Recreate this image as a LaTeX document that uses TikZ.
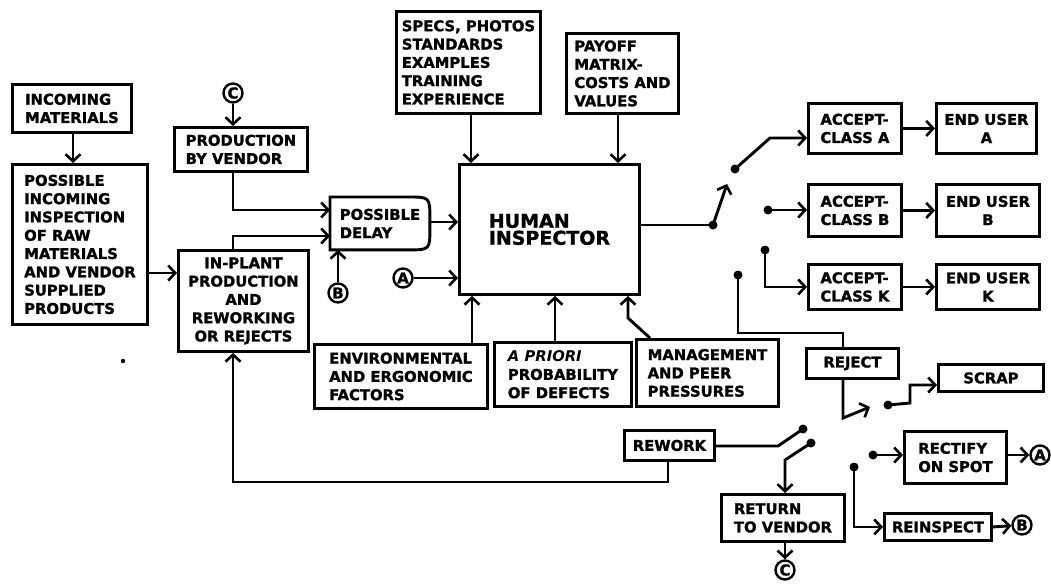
\documentclass[tikz,border=0pt]{standalone}
\usepackage{fontspec}
\setmainfont{DejaVu Sans}[BoldFeatures={FakeBold=1.4}]
\usetikzlibrary{arrows.meta,calc}
\begin{document}
\begin{tikzpicture}[x=1pt,y=-1pt,
  ln/.style={line width=2.9pt},
  bx/.style={draw, line width=2.9pt, rectangle, anchor=north west, inner sep=3pt, align=left,
    font=\bfseries\fontsize{14.8}{18.3}\selectfont},
  cx/.style={bx, align=center},
  arr/.style={ln, -{Straight Barb[length=7pt,width=15pt,line width=2.6pt]}},
  dot/.style={circle, fill, inner sep=0pt, minimum size=9pt},
  lt/.style={circle, draw, line width=2.4pt, inner sep=0pt, minimum size=19pt,
    font=\bfseries\fontsize{15}{15}\selectfont}]
\useasboundingbox (0,0) rectangle (1051,586);

% left column
\node[bx, minimum width=119pt, minimum height=48pt] (inc) at (11,83) {INCOMING\\MATERIALS};
\node[bx, minimum width=135pt, minimum height=160pt] (poss) at (11,163)
  {POSSIBLE\\INCOMING\\INSPECTION\\OF RAW\\MATERIALS\\AND VENDOR\\SUPPLIED\\PRODUCTS};
\node[lt] (c1) at (233,93) {C};
\node[bx, minimum width=133pt, minimum height=44pt] (prodv) at (173,126) {PRODUCTION\\BY VENDOR};
\node[cx, minimum width=130pt, minimum height=101pt] (inplant) at (177,249)
  {IN-PLANT\\PRODUCTION\\AND\\REWORKING\\OR REJECTS};
\node[bx, draw=none, minimum width=97pt, minimum height=50pt] (delay) at (330,197) {POSSIBLE\\DELAY};
\draw[ln] (delay.north west) -- ([xshift=-22pt]delay.north east)
  .. controls (delay.north east) .. ([yshift=-22pt]delay.north east)
  -- ([yshift=22pt]delay.south east)
  .. controls (delay.south east) .. ([xshift=-22pt]delay.south east)
  -- (delay.south west) -- cycle;
\node[lt] (b1) at (338,293) {B};
\fill (123,361) circle (2.2pt);

% inspector and inputs
\node[bx, minimum width=144pt, minimum height=102pt] (specs) at (395,10)
  {SPECS, PHOTOS\\STANDARDS\\EXAMPLES\\TRAINING\\EXPERIENCE};
\node[bx, minimum width=112pt, minimum height=80pt] (payoff) at (565,32)
  {PAYOFF\\MATRIX-\\COSTS AND\\VALUES};
\node[bx, minimum width=180pt, minimum height=130pt, font=\bfseries\fontsize{19}{17}\selectfont]
  (hi) at (458,163) {HUMAN\\INSPECTOR};
\node[lt] (a1) at (403,278) {A};
\node[bx, minimum width=173pt, minimum height=64pt] (env) at (313,343)
  {ENVIRONMENTAL\\AND ERGONOMIC\\FACTORS};
\node[bx, minimum width=137pt, minimum height=64pt] (apr) at (493,341)
  {{\itshape A PRIORI}\\PROBABILITY\\OF DEFECTS};
\node[bx, minimum width=142pt, minimum height=67pt] (mgmt) at (635,338)
  {MANAGEMENT\\AND PEER\\PRESSURES};

% outputs
\node[bx, minimum width=93pt, minimum height=50pt] (accA) at (807,102) {ACCEPT-\\CLASS A};
\node[cx, minimum width=100pt, minimum height=50pt] (endA) at (935,102) {END USER\\A};
\node[bx, minimum width=93pt, minimum height=52pt] (accB) at (807,183) {ACCEPT-\\CLASS B};
\node[cx, minimum width=103pt, minimum height=52pt] (endB) at (935,183) {END USER\\B};
\node[bx, minimum width=93pt, minimum height=45pt] (accK) at (807,263) {ACCEPT-\\CLASS K};
\node[cx, minimum width=103pt, minimum height=45pt] (endK) at (935,263) {END USER\\K};
\node[bx, minimum width=92pt, minimum height=30pt] (reject) at (805,347) {REJECT};
\node[cx, minimum width=105pt, minimum height=27pt] (scrap) at (937,363) {SCRAP};
\node[bx, minimum width=102pt, minimum height=52pt] (rect) at (903,430) {RECTIFY\\ON SPOT};
\node[cx, minimum width=107pt, minimum height=27pt] (reinsp) at (883,512) {REINSPECT};
\node[bx, minimum width=90pt, minimum height=30pt] (rework) at (623,429) {REWORK};
\node[bx, minimum width=123pt, minimum height=47pt] (rtv) at (720,493) {RETURN\\TO VENDOR};
\node[lt] (a2) at (1040,455) {A};
\node[lt] (b2) at (1022,525) {B};
\node[lt] (c2) at (785,570) {C};

% switch dots
\node[dot] (d0) at (713,225) {};
\node[dot] (dA) at (735,169) {};
\node[dot] (dB) at (768,210) {};
\node[dot] (dK) at (765,250) {};
\node[dot] (dR) at (738,275) {};
\node[dot] (dS) at (888,405) {};
\node[dot] (dRe) at (873,455) {};
\node[dot] (dRi) at (854,467) {};
\node[dot] (dW) at (803,429) {};
\node[dot] (dV) at (811,443) {};

% connectors, left part
\draw[arr] (inc.south -| 73,0) -- (poss.north -| 73,0);
\draw[arr] (c1) -- (c1 |- prodv.north);
\draw[arr] (c1 |- prodv.south) |- (delay.west |- 0,210);
\draw[arr] (c1 |- inplant.north) |- (delay.west |- 0,236);
\draw[arr] (poss.east |- 0,273) -- (inplant.west |- 0,273);
\draw[arr] (b1) -- (b1 |- delay.south);
\draw[arr] (delay.east |- 0,222) -- (hi.west |- 0,222);
\draw[arr] (a1) -- (a1 -| hi.west);
\draw[arr] (specs.south -| 471,0) -- (hi.north -| 471,0);
\draw[arr] (payoff.south -| 618,0) -- (hi.north -| 618,0);
\draw[arr] (env.north -| 472,0) -- (hi.south -| 472,0);
\draw[arr] (apr.north -| 555,0) -- (hi.south -| 555,0);
\draw[arr] (mgmt.north -| 650,0) -- (628,318) -- (hi.south -| 628,0);

% connectors, right part
\draw[ln] (hi.east |- d0) -- (d0.center);
\coordinate (s0) at (727,184);
\draw[arr] (d0.center) -- (s0);
\draw[arr] (dA.center) -- (770,138) -- (accA.west |- 0,138);
\draw[arr] (accA.east) -- (endA.west);
\draw[arr] (dB.center) -- (dB -| accB.west);
\draw[arr] (accB.east) -- (endB.west);
\draw[arr] (dK.center) |- (accK.west);
\draw[arr] (accK.east) -- (endK.west);
\draw[ln] (dR.center) |- (843,333) -- (reject.north -| 843,0);
\draw[arr] (reject.south -| 843,0) -- (843,418) -- (870,407);
\draw[arr] (dS.center) -- (910,403) |- (scrap.west |- 0,385);
\draw[arr] (dRe.center) -- (dRe -| rect.west);
\draw[arr] (rect.east |- a2) -- (a2);
\draw[arr] (dRi.center) |- (reinsp.west);
\draw[arr] (reinsp.east) -- (b2);
\draw[ln] (rework.east |- 0,446) -- (778,446) -- (dW.center);
\draw[arr] (dV.center) -- (785,460) -- (rtv.north -| 785,0);
\draw[arr] (rtv.south -| 785,0) -- (c2);
\draw[arr] (rework.south -| 668,0) |- (c1 |- 0,482) -- (c1 |- inplant.south);
\end{tikzpicture}
\end{document}
